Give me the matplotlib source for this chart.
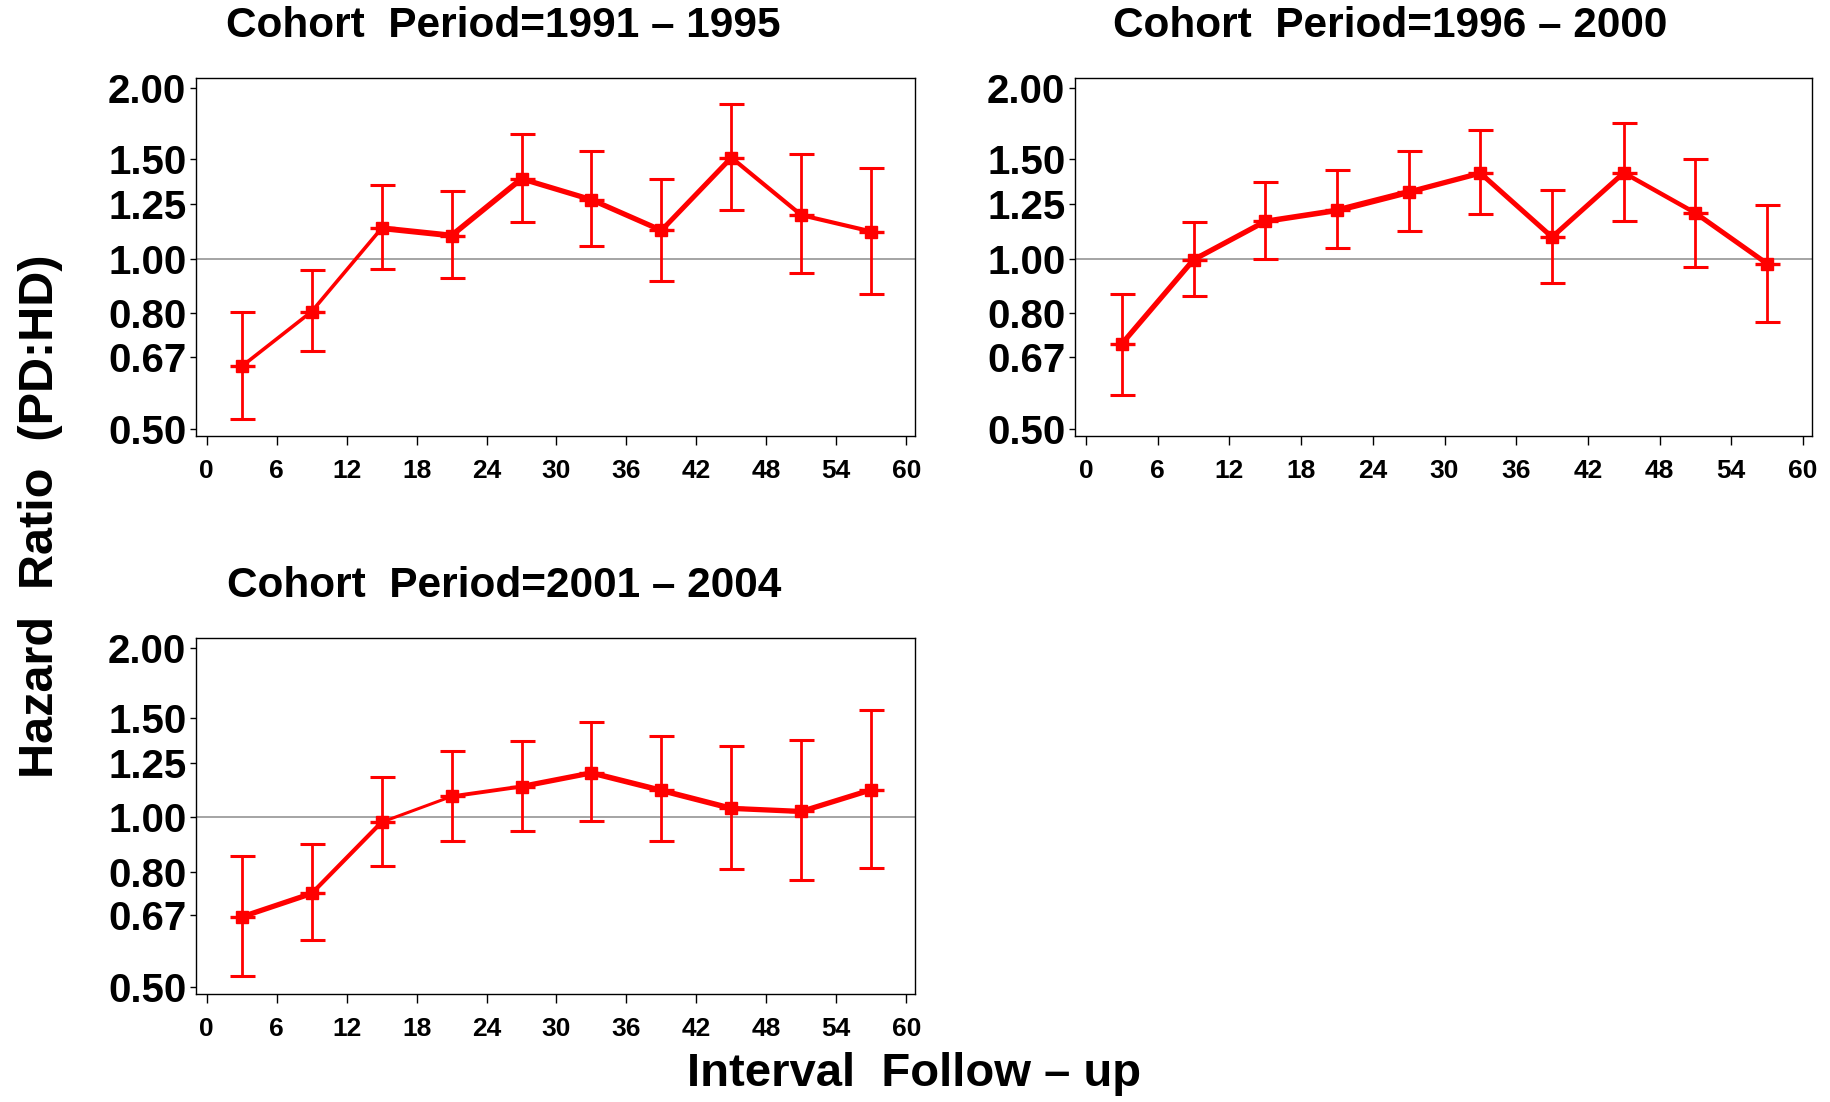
import matplotlib
matplotlib.use("Agg")
import matplotlib.pyplot as plt
from matplotlib import font_manager
from matplotlib.ticker import FixedLocator, NullLocator

# interval midpoints (months of follow-up)
months = [3, 9, 15, 21, 27, 33, 39, 45, 51, 57]

hr_1991 = [0.645, 0.806, 1.131, 1.098, 1.383, 1.270, 1.121, 1.507, 1.193, 1.116]
lo_1991 = [0.520, 0.687, 0.960, 0.924, 1.159, 1.053, 0.912, 1.219, 0.942, 0.866]
hi_1991 = [0.804, 0.955, 1.351, 1.315, 1.661, 1.550, 1.383, 1.872, 1.529, 1.446]

hr_1996 = [0.707, 0.995, 1.163, 1.216, 1.310, 1.415, 1.091, 1.417, 1.203, 0.979]
lo_1996 = [0.575, 0.857, 0.997, 1.042, 1.118, 1.196, 0.907, 1.167, 0.965, 0.774]
hi_1996 = [0.866, 1.161, 1.364, 1.435, 1.548, 1.684, 1.322, 1.735, 1.500, 1.242]

hr_2001 = [0.666, 0.733, 0.981, 1.090, 1.135, 1.200, 1.117, 1.038, 1.025, 1.120]
lo_2001 = [0.524, 0.605, 0.820, 0.907, 0.947, 0.984, 0.907, 0.809, 0.775, 0.815]
hi_2001 = [0.853, 0.897, 1.178, 1.315, 1.365, 1.475, 1.393, 1.340, 1.375, 1.551]

periods = ["1991 – 1995", "1996 – 2000", "2001 – 2004"]
y_ticks = [0.50, 0.67, 0.80, 1.00, 1.25, 1.50, 2.00]
y_ticklabels = ["0.50", "0.67", "0.80", "1.00", "1.25", "1.50", "2.00"]
x_ticks = [0, 6, 12, 18, 24, 30, 36, 42, 48, 54, 60]

# segment widths of the connecting line (pt)
seg_w = [
    [2.6, 2.6, 4.2, 4.0, 3.8, 3.8, 3.6, 3.0, 3.0],
    [3.8, 3.8, 4.0, 4.4, 3.8, 3.6, 3.6, 3.2, 3.6],
    [3.8, 3.0, 2.2, 2.8, 3.8, 4.0, 4.0, 3.8, 3.8],
]

plt.rcParams["font.family"] = ["Liberation Sans", "DejaVu Sans"]
installed = {f.name for f in font_manager.fontManager.ttflist}
if "Liberation Sans Narrow" in installed:
    head_font, head_scale = ["Liberation Sans Narrow", "DejaVu Sans"], 1.2
else:
    head_font, head_scale = ["Liberation Sans", "DejaVu Sans"], 1.0
RED = "#ff0000"

fig = plt.figure(figsize=(18.31, 11.02), dpi=100)
W, H = 1831, 1102


def add_panel(left, top, width, height):
    return fig.add_axes([left / W, 1 - (top + height) / H, width / W, height / H])


panels = [
    (add_panel(196, 78, 719, 358), hr_1991, lo_1991, hi_1991),
    (add_panel(1075, 78, 737, 358), hr_1996, lo_1996, hi_1996),
    (add_panel(196, 638, 719, 356), hr_2001, lo_2001, hi_2001),
]

for i, (ax, hr, lo, hi) in enumerate(panels):
    ax.set_yscale("log")
    ax.axhline(1.0, color="#8c8c8c", lw=1.1, zorder=1)

    yerr = [[h - l for h, l in zip(hr, lo)], [u - h for h, u in zip(hr, hi)]]
    ax.errorbar(months, hr, yerr=yerr, fmt="none", ecolor=RED, elinewidth=2.0,
                capsize=9, capthick=2.2, zorder=3)
    for k in range(len(months) - 1):
        ax.plot(months[k:k + 2], hr[k:k + 2], color=RED, lw=seg_w[i][k],
                solid_capstyle="round", zorder=4)
    ax.plot(months, hr, ls="none", marker="s", ms=8, color=RED, zorder=5)
    ax.plot(months, hr, ls="none", marker="_", ms=18, mew=2.4, color=RED, zorder=5)

    ax.set_ylim(0.486, 2.083)
    ax.set_xlim(-0.92, 60.75)
    ax.yaxis.set_major_locator(FixedLocator(y_ticks))
    ax.yaxis.set_minor_locator(NullLocator())
    ax.set_yticklabels(y_ticklabels)
    ax.set_xticks(x_ticks)
    ax.tick_params(axis="y", length=4.5, width=1.0, pad=2.5, labelsize=29)
    ax.tick_params(axis="x", length=6.5, width=1.0, pad=10, labelsize=19)
    for lab in ax.get_yticklabels() + ax.get_xticklabels():
        lab.set_fontweight("bold")
    for sp in ax.spines.values():
        sp.set_linewidth(1.0)

    ax.text(0.428, 1 + 52 / 358, "Cohort  Period=" + periods[i], transform=ax.transAxes,
            ha="center", va="center", fontsize=30.5 * head_scale, fontweight="bold",
            family=head_font)

fig.text(41 / W, 1 - 516 / H, "Hazard  Ratio  (PD:HD)", rotation=90,
         ha="center", va="center", fontsize=35 * head_scale, fontweight="bold",
         family=head_font)
fig.text(914 / W, 1 - 1074 / H, "Interval  Follow – up",
         ha="center", va="center", fontsize=34 * head_scale, fontweight="bold",
         family=head_font)

fig.savefig("out.png", dpi=100)
